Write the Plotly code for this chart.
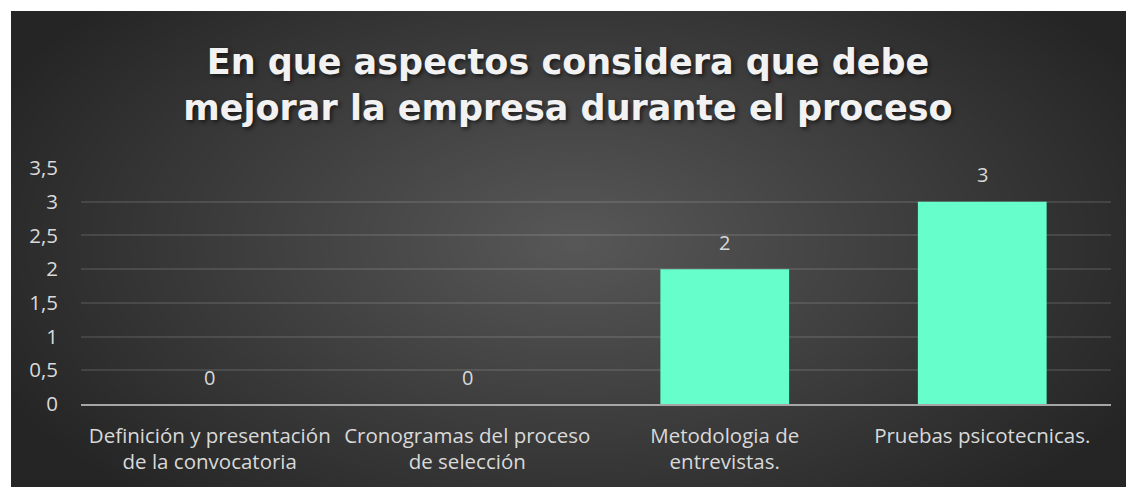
import base64, struct, zlib
import numpy as np
import plotly.graph_objects as go

# ---- data ----
categories = ["Definición y presentación de la convocatoria",
              "Cronogramas del proceso de selección",
              "Metodologia de entrevistas.",
              "Pruebas psicotecnicas."]
tick_labels = ["Definición y presentación<br>de la convocatoria",
               "Cronogramas del proceso<br>de selección",
               "Metodologia de<br>entrevistas.",
               "Pruebas psicotecnicas."]
values = [0, 0, 2, 3]
y_ticks = [0, 0.5, 1, 1.5, 2, 2.5, 3, 3.5]
title_text = "En que aspectos considera que debe<br>mejorar la empresa durante el proceso"

W, H = 1126, 487

# ---- background gradient image (style only) ----
BX0, BY0 = 11, 11
bw, bh = W - BX0, H - BY0
xx, yy = np.meshgrid(np.arange(bw) + BX0, np.arange(bh) + BY0)
t = np.sqrt(((xx - 575) / 650.0) ** 2 + ((yy - 240) / 350.0) ** 2)
t = np.clip(t, 0, 1)
g = (88 - (88 - 37) * t).astype(np.uint8)
rgb = np.stack([g, g, g], axis=-1)
raw = b"".join(b"\x00" + rgb[i].tobytes() for i in range(bh))

def chunk(tag, data):
    c = struct.pack(">I", len(data)) + tag + data
    return c + struct.pack(">I", zlib.crc32(tag + data) & 0xffffffff)

png = b"\x89PNG\r\n\x1a\n" + chunk(b"IHDR", struct.pack(">IIBBBBB", bw, bh, 8, 2, 0, 0, 0)) \
      + chunk(b"IDAT", zlib.compress(raw, 9)) + chunk(b"IEND", b"")
bg_src = "data:image/png;base64," + base64.b64encode(png).decode()

# plot area geometry (pixels)
PL, PR, PT, PB = 81, 1111, 168, 404
pw, ph = PR - PL, PB - PT

fig = go.Figure()
fig.add_trace(go.Bar(
    x=categories, y=values,
    marker=dict(color="#66FFCC", line=dict(width=0)),
    width=0.5,
    hoverinfo="x+y",
))
for c, v in zip(categories, values):
    fig.add_annotation(x=c, y=v, text=str(v), showarrow=False, yshift=27,
                       yanchor="middle",
                       font=dict(family="Open Sans", size=20, color="#d9d9d9"))

fig.update_layout(
    width=W, height=H,
    margin=dict(l=PL, r=W - PR, t=PT, b=H - PB, autoexpand=False),
    paper_bgcolor="white", plot_bgcolor="rgba(0,0,0,0)",
    separators=",.",
    showlegend=False,
    title=dict(text=title_text, x=(568 - PL) / pw, xref="paper", xanchor="center",
               y=1 - 74 / H, yref="container", yanchor="middle",
               font=dict(family="DejaVu Sans", size=35, color="#f2f2f2", weight="bold",
                         shadow="2px 2px 4px rgba(0,0,0,0.6)")),
    images=[dict(source=bg_src, xref="paper", yref="paper",
                 x=(BX0 - PL) / pw, y=(PB - BY0) / ph,
                 sizex=bw / pw, sizey=bh / ph, sizing="stretch",
                 xanchor="left", yanchor="top", layer="below")],
    xaxis=dict(tickvals=categories, ticktext=tick_labels, showgrid=False,
               showline=True, linecolor="#a6a6a6", linewidth=2, ticks="",
               tickfont=dict(family="Open Sans", size=20.5, color="#d9d9d9"),
               ticklabelstandoff=12, fixedrange=True),
    yaxis=dict(range=[0, 3.5], tickvals=y_ticks, showgrid=True,
               gridcolor="rgba(255,255,255,0.11)", gridwidth=1.5,
               zeroline=False, showline=False, ticks="",
               tickfont=dict(family="Open Sans", size=20.5, color="#d9d9d9"),
               ticklabelstandoff=22, fixedrange=True),
)

fig.write_html("out.html", config={"displayModeBar": False},
               post_script="document.body.style.margin='0';document.body.style.overflow='hidden';")
